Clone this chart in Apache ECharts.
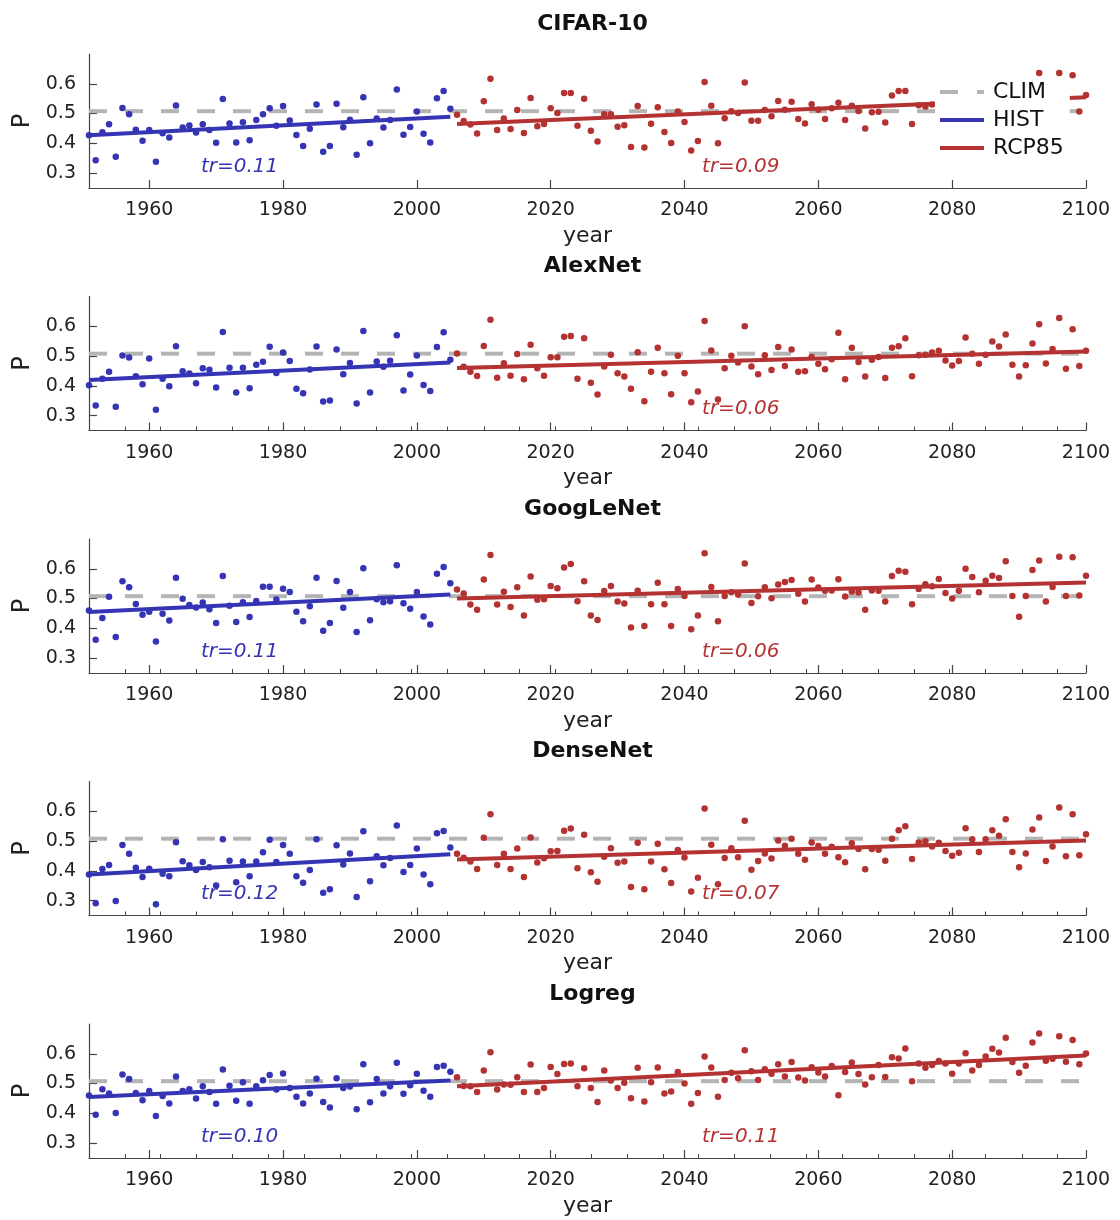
<!DOCTYPE html>
<html>
<head>
<meta charset="utf-8">
<script src="https://cdn.jsdelivr.net/npm/echarts@6/dist/echarts.min.js"></script>
<style>
html,body{margin:0;padding:0;background:#fff;}
#chart{width:1120px;height:1220px;}
</style>
</head>
<body>
<div id="chart"></div>
<script>
// ---------------- DATA ----------------
const panelTitles = ['CIFAR-10', 'AlexNet', 'GoogLeNet', 'DenseNet', 'Logreg'];
const histStart = 1951, histEnd = 2005, rcpStart = 2006, rcpEnd = 2100;
const xTickLabels = [1960, 1980, 2000, 2020, 2040, 2060, 2080, 2100];
const xMinorTicks = [1956.4, 1961.7, 1967.1, 1972.4, 1977.8, 1983.2, 1988.5, 1993.9, 1999.2, 2004.6, 2010.0, 2015.3, 2020.7, 2026.0, 2031.4, 2036.8, 2042.1, 2047.5, 2052.8, 2058.2, 2063.6, 2068.9, 2074.3, 2079.6, 2085.0, 2090.4, 2095.7];
const yTickLabels = [0.3, 0.4, 0.5, 0.6];
const climValue = 0.508;

const cifarHist = [0.427,0.343,0.437,0.464,0.355,0.519,0.498,0.446,0.409,0.445,
  0.338,0.434,0.420,0.527,0.453,0.460,0.436,0.464,0.445,0.402,
  0.549,0.467,0.403,0.471,0.410,0.478,0.498,0.518,0.459,0.525,
  0.477,0.428,0.391,0.449,0.530,0.372,0.391,0.533,0.454,0.479,
  0.362,0.555,0.400,0.483,0.453,0.478,0.581,0.429,0.455,0.507,
  0.432,0.403,0.551,0.576,0.516];
const cifarRcp = [0.496,0.475,0.463,0.433,0.541,0.617,0.445,0.483,0.448,0.512,
  0.435,0.552,0.457,0.465,0.518,0.502,0.569,0.569,0.459,0.550,
  0.442,0.406,0.498,0.498,0.456,0.461,0.388,0.525,0.386,0.466,
  0.521,0.438,0.401,0.507,0.472,0.376,0.408,0.606,0.526,0.400,
  0.484,0.508,0.502,0.604,0.476,0.476,0.512,0.491,0.542,0.513,
  0.540,0.482,0.467,0.531,0.513,0.482,0.518,0.536,0.478,0.526,
  0.509,0.450,0.504,0.506,0.470,0.561,0.576,0.576,0.465,0.528,
  0.524,0.530,0.550,0.510,0.490,0.520,0.590,0.560,0.510,0.550,
  0.570,0.560,0.600,0.500,0.460,0.500,0.590,0.636,0.490,0.530,
  0.636,0.500,0.629,0.507,0.562];

const alexHist = [0.402,0.334,0.424,0.447,0.330,0.502,0.495,0.432,0.405,0.492,
  0.320,0.424,0.399,0.533,0.449,0.441,0.409,0.459,0.454,0.394,
  0.581,0.461,0.378,0.461,0.392,0.471,0.481,0.531,0.443,0.512,
  0.483,0.390,0.375,0.455,0.532,0.347,0.351,0.522,0.439,0.477,
  0.341,0.584,0.378,0.482,0.464,0.484,0.570,0.384,0.438,0.502,
  0.403,0.383,0.530,0.580,0.488];
const alexRcp = [0.509,0.464,0.447,0.433,0.534,0.622,0.427,0.476,0.434,0.507,
  0.422,0.538,0.459,0.434,0.496,0.496,0.565,0.567,0.424,0.560,
  0.410,0.371,0.465,0.504,0.442,0.431,0.390,0.513,0.348,0.447,
  0.528,0.442,0.372,0.501,0.442,0.345,0.381,0.618,0.519,0.354,
  0.459,0.501,0.478,0.600,0.465,0.439,0.503,0.453,0.530,0.467,
  0.522,0.447,0.449,0.497,0.474,0.456,0.489,0.578,0.422,0.528,
  0.480,0.431,0.488,0.497,0.426,0.528,0.533,0.560,0.432,0.503,
  0.504,0.512,0.518,0.485,0.468,0.483,0.562,0.508,0.474,0.504,
  0.549,0.532,0.572,0.471,0.431,0.469,0.542,0.607,0.475,0.524,
  0.628,0.457,0.590,0.467,0.518];

const googHist = [0.460,0.362,0.435,0.506,0.371,0.558,0.538,0.482,0.446,0.456,
  0.356,0.449,0.426,0.570,0.499,0.478,0.470,0.487,0.464,0.418,
  0.576,0.476,0.421,0.488,0.438,0.492,0.540,0.540,0.497,0.533,
  0.522,0.456,0.424,0.474,0.570,0.392,0.418,0.559,0.469,0.522,
  0.388,0.602,0.427,0.498,0.488,0.491,0.612,0.484,0.466,0.522,
  0.440,0.413,0.583,0.606,0.551];
const googRcp = [0.530,0.517,0.480,0.462,0.564,0.646,0.480,0.523,0.472,0.538,
  0.443,0.574,0.496,0.498,0.542,0.535,0.604,0.616,0.491,0.558,
  0.443,0.428,0.525,0.542,0.490,0.483,0.403,0.526,0.408,0.481,
  0.553,0.481,0.408,0.532,0.509,0.397,0.443,0.652,0.539,0.424,
  0.509,0.521,0.514,0.618,0.485,0.508,0.538,0.501,0.547,0.556,
  0.562,0.516,0.490,0.564,0.537,0.526,0.527,0.565,0.507,0.524,
  0.520,0.462,0.527,0.526,0.490,0.576,0.593,0.590,0.481,0.532,
  0.548,0.541,0.566,0.519,0.500,0.526,0.600,0.572,0.521,0.560,
  0.577,0.569,0.625,0.509,0.439,0.509,0.596,0.628,0.490,0.539,
  0.640,0.509,0.639,0.510,0.577];

const denseHist = [0.388,0.291,0.406,0.420,0.299,0.487,0.457,0.410,0.379,0.407,
  0.288,0.390,0.382,0.496,0.432,0.419,0.403,0.430,0.412,0.351,
  0.506,0.434,0.362,0.431,0.382,0.431,0.462,0.504,0.430,0.487,
  0.457,0.382,0.360,0.403,0.506,0.326,0.338,0.486,0.421,0.458,
  0.312,0.533,0.365,0.449,0.419,0.443,0.552,0.396,0.420,0.475,
  0.388,0.355,0.526,0.534,0.478];
const denseRcp = [0.457,0.444,0.431,0.406,0.511,0.590,0.420,0.457,0.406,0.475,
  0.379,0.512,0.428,0.442,0.466,0.467,0.535,0.542,0.409,0.521,
  0.395,0.363,0.447,0.476,0.427,0.431,0.346,0.494,0.338,0.431,
  0.491,0.405,0.359,0.470,0.445,0.331,0.377,0.609,0.488,0.355,
  0.443,0.476,0.446,0.568,0.404,0.433,0.458,0.441,0.502,0.484,
  0.508,0.457,0.437,0.495,0.483,0.457,0.481,0.446,0.429,0.493,
  0.473,0.405,0.473,0.471,0.434,0.508,0.536,0.550,0.440,0.495,
  0.499,0.482,0.494,0.467,0.451,0.461,0.543,0.506,0.463,0.506,
  0.536,0.518,0.573,0.463,0.412,0.458,0.539,0.579,0.433,0.482,
  0.613,0.449,0.590,0.452,0.523];

const logHist = [0.460,0.395,0.481,0.467,0.401,0.530,0.515,0.468,0.444,0.475,
  0.391,0.458,0.433,0.524,0.475,0.481,0.450,0.491,0.472,0.432,
  0.547,0.493,0.442,0.504,0.432,0.491,0.511,0.529,0.480,0.534,
  0.485,0.456,0.433,0.467,0.516,0.438,0.420,0.518,0.485,0.490,
  0.414,0.565,0.437,0.515,0.467,0.491,0.570,0.466,0.494,0.533,
  0.476,0.456,0.556,0.560,0.540];
const logRcp = [0.521,0.492,0.491,0.472,0.544,0.605,0.480,0.497,0.496,0.521,
  0.472,0.564,0.472,0.485,0.556,0.532,0.566,0.567,0.491,0.551,
  0.485,0.438,0.544,0.510,0.485,0.503,0.451,0.553,0.440,0.504,
  0.554,0.467,0.473,0.539,0.500,0.432,0.468,0.591,0.554,0.456,
  0.512,0.536,0.518,0.612,0.541,0.512,0.548,0.533,0.565,0.524,
  0.572,0.520,0.510,0.555,0.537,0.524,0.559,0.461,0.539,0.571,
  0.532,0.497,0.521,0.562,0.522,0.588,0.584,0.618,0.508,0.567,
  0.553,0.562,0.576,0.567,0.533,0.567,0.602,0.544,0.562,0.591,
  0.617,0.604,0.654,0.572,0.536,0.560,0.638,0.668,0.577,0.583,
  0.659,0.573,0.646,0.565,0.601];

// trend line end values [start, end]
const histTrend = [[0.427,0.489],[0.420,0.478],[0.455,0.514],[0.388,0.456],[0.455,0.510]];
const rcpTrend  = [[0.465,0.555],[0.460,0.515],[0.500,0.554],[0.438,0.502],[0.491,0.594]];
const histTrLabel = ['tr=0.11', '', 'tr=0.11', 'tr=0.12', 'tr=0.10'];
const rcpTrLabel  = ['tr=0.09', 'tr=0.06', 'tr=0.06', 'tr=0.07', 'tr=0.11'];
const trLabelYear = [1973.5, 2048.4];
const trLabelValue = 0.322;

const histSets = [cifarHist, alexHist, googHist, denseHist, logHist];
const rcpSets = [cifarRcp, alexRcp, googRcp, denseRcp, logRcp];

// ---------------- STYLE / LAYOUT ----------------
const FONT = 'DejaVu Sans';
const BLUE = '#3434b4', RED = '#b43232', GRAY = '#b4b4b4', AXIS = '#444';
const gridLeft = 89, gridRight = 34, gridH = 134;
const gridTops = [54, 296.5, 539, 781.5, 1024];

function toPts(startYear, vals) {
  const out = [];
  for (let i = 0; i < vals.length; i++) out.push([startYear + i, vals[i]]);
  return out;
}

const grids = [], xAxes = [], yAxes = [], series = [], titles = [];
let xIdx = 0;
for (let p = 0; p < 5; p++) {
  grids.push({left: gridLeft, right: gridRight, top: gridTops[p], height: gridH, containLabel: false});
  titles.push({
    text: panelTitles[p], left: (gridLeft + 1120 - gridRight) / 2, textAlign: 'center',
    top: gridTops[p] - 46,
    textStyle: {fontFamily: FONT, fontWeight: 'bold', fontSize: 22, color: '#111'}
  });
  const mainX = xIdx;
  xAxes.push({
    type: 'value', gridIndex: p, min: 1951, max: 2100, position: 'bottom',
    axisLine: {show: true, onZero: false, lineStyle: {color: AXIS, width: 1.2}},
    axisTick: {show: true, inside: true, length: 8, customValues: xTickLabels, lineStyle: {color: AXIS, width: 1.2}},
    axisLabel: {customValues: xTickLabels, formatter: v => String(v), margin: 13, fontSize: 19, color: '#222', fontFamily: FONT},
    splitLine: {show: false},
    name: 'year', nameLocation: 'middle', nameGap: 37,
    nameTextStyle: {fontSize: 22, color: '#222', fontFamily: FONT}
  });
  xIdx++;
  if (p > 0) {
    xAxes.push({
      type: 'value', gridIndex: p, min: 1951, max: 2100, position: 'bottom', offset: 0,
      axisLine: {show: false}, axisLabel: {show: false}, splitLine: {show: false},
      axisTick: {show: true, inside: true, length: 4, customValues: xMinorTicks, lineStyle: {color: AXIS, width: 1}}
    });
    xIdx++;
  }
  yAxes.push({
    type: 'value', gridIndex: p, min: 0.25, max: 0.7,
    axisLine: {show: true, lineStyle: {color: AXIS, width: 1.2}},
    axisTick: {show: true, inside: true, length: 8, customValues: yTickLabels, lineStyle: {color: AXIS, width: 1.2}},
    axisLabel: {customValues: yTickLabels, formatter: v => v.toFixed(1), margin: 13, fontSize: 19, color: '#222', fontFamily: FONT},
    splitLine: {show: false},
    name: 'P', nameLocation: 'middle', nameRotate: 90, nameGap: 54,
    nameTextStyle: {fontSize: 24, color: '#222', fontFamily: FONT}
  });

  series.push({
    name: 'CLIM', type: 'line', xAxisIndex: mainX, yAxisIndex: p, symbol: 'none', silent: true, z: 1,
    data: [[histStart, climValue], [rcpEnd, climValue]],
    lineStyle: {color: GRAY, width: 4, type: [18, 18]}, itemStyle: {color: GRAY}
  });
  series.push({
    name: 'hist points', type: 'scatter', xAxisIndex: mainX, yAxisIndex: p, z: 2,
    symbolSize: 6.5, itemStyle: {color: BLUE, opacity: 1}, data: toPts(histStart, histSets[p])
  });
  series.push({
    name: 'rcp points', type: 'scatter', xAxisIndex: mainX, yAxisIndex: p, z: 2,
    symbolSize: 6.5, itemStyle: {color: RED, opacity: 1}, data: toPts(rcpStart, rcpSets[p])
  });
  series.push({
    name: 'HIST', type: 'line', xAxisIndex: mainX, yAxisIndex: p, symbol: 'none', z: 3,
    data: [[histStart, histTrend[p][0]], [histEnd, histTrend[p][1]]],
    lineStyle: {color: BLUE, width: 4}, itemStyle: {color: BLUE}
  });
  series.push({
    name: 'RCP85', type: 'line', xAxisIndex: mainX, yAxisIndex: p, symbol: 'none', z: 3,
    data: [[rcpStart, rcpTrend[p][0]], [rcpEnd, rcpTrend[p][1]]],
    lineStyle: {color: RED, width: 4}, itemStyle: {color: RED}
  });
  const labelData = [];
  if (histTrLabel[p]) labelData.push({value: [trLabelYear[0], trLabelValue], itemStyle: {color: BLUE},
    label: {formatter: histTrLabel[p], color: BLUE, opacity: 1}});
  if (rcpTrLabel[p]) labelData.push({value: [trLabelYear[1], trLabelValue], itemStyle: {color: RED},
    label: {formatter: rcpTrLabel[p], color: RED, opacity: 1}});
  series.push({
    name: 'tr', type: 'scatter', xAxisIndex: mainX, yAxisIndex: p, symbolSize: 0, silent: true, z: 4,
    label: {show: true, position: 'inside', fontSize: 20, fontStyle: 'italic', fontFamily: FONT,
      textBorderWidth: 0, textShadowBlur: 0},
    emphasis: {disabled: true},
    data: labelData
  });
}

const chart = echarts.init(document.getElementById('chart'), null, {renderer: 'canvas'});
chart.setOption({
  animation: false,
  backgroundColor: '#fff',
  title: titles,
  grid: grids,
  xAxis: xAxes,
  yAxis: yAxes,
  legend: {
    data: [
      {name: 'CLIM', icon: 'path://M0 0h18v4H0z M37 0h7v4H37z', itemStyle: {color: GRAY}},
      {name: 'HIST', icon: 'path://M0 0h44v4H0z', itemStyle: {color: BLUE}},
      {name: 'RCP85', icon: 'path://M0 0h44v4H0z', itemStyle: {color: RED}}
    ],
    orient: 'vertical', left: 935, top: 78,
    itemWidth: 44, itemHeight: 14, itemGap: 6,
    backgroundColor: '#fff', padding: [3, 6, 4, 5],
    textStyle: {fontFamily: FONT, fontSize: 22, color: '#111', lineHeight: 22, padding: [0, 0, 0, 4]},
    z: 20
  },
  series: series
});
</script>
</body>
</html>
